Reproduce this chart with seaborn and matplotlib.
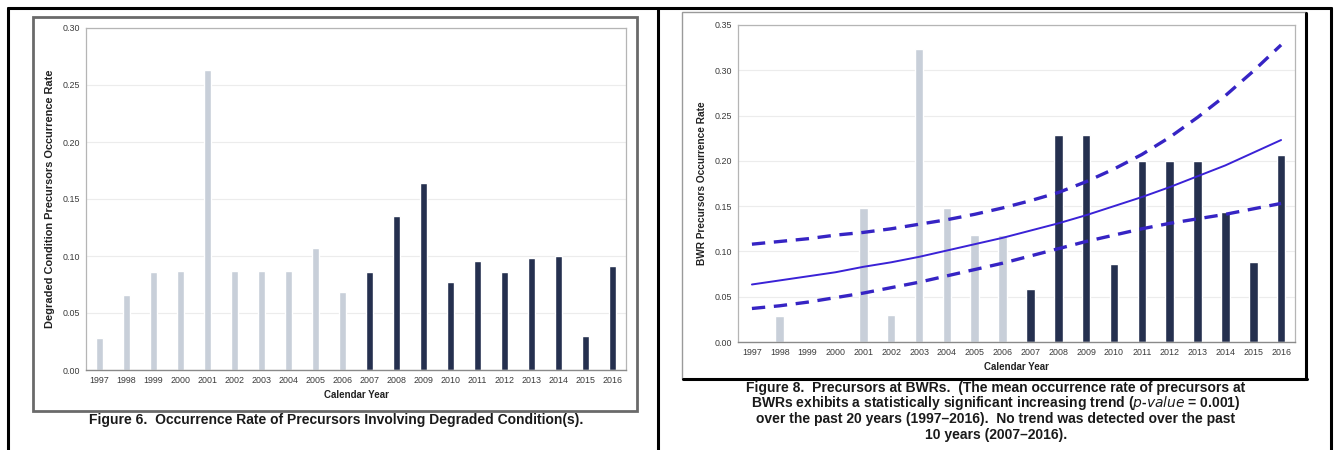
import numpy as np
import pandas as pd
import matplotlib
matplotlib.use("Agg")
import matplotlib.pyplot as plt
import seaborn as sns
from matplotlib.patches import Rectangle
from matplotlib.lines import Line2D

sns.set_theme(style="white")
plt.rcParams['font.family'] = ['Liberation Sans', 'DejaVu Sans']

years = [str(y) for y in range(1997, 2017)]
period = ["1997-2006"] * 10 + ["2007-2016"] * 10

degraded_rate = [0.028, 0.066, 0.086, 0.087, 0.263, 0.087, 0.087, 0.087, 0.107, 0.068,
                 0.086, 0.135, 0.164, 0.077, 0.096, 0.086, 0.098, 0.100, 0.030, 0.091]

bwr_rate = [0.0, 0.029, 0.0, 0.0, 0.148, 0.030, 0.324, 0.148, 0.118, 0.118,
            0.058, 0.229, 0.229, 0.086, 0.200, 0.200, 0.200, 0.144, 0.088, 0.206]

trend_mean = [0.0635, 0.068, 0.0725, 0.077, 0.083, 0.088, 0.094, 0.101, 0.108, 0.115,
              0.123, 0.131, 0.140, 0.150, 0.160, 0.171, 0.183, 0.195, 0.209, 0.223]
trend_upper = [0.108, 0.111, 0.114, 0.118, 0.121, 0.125, 0.130, 0.135, 0.141, 0.148,
               0.156, 0.165, 0.177, 0.191, 0.207, 0.226, 0.248, 0.272, 0.299, 0.328]
trend_lower = [0.037, 0.040, 0.044, 0.049, 0.054, 0.060, 0.066, 0.073, 0.080, 0.087,
               0.095, 0.103, 0.111, 0.118, 0.125, 0.131, 0.136, 0.141, 0.147, 0.153]

left_ylabel = "Degraded Condition Precursors Occurrence Rate"
right_ylabel = "BWR Precursors Occurrence Rate"
xlabel = "Calendar Year"
caption_left = "Figure 6.  Occurrence Rate of Precursors Involving Degraded Condition(s)."
caption_right = ["Figure 8.  Precursors at BWRs.  (The mean occurrence rate of precursors at",
                 "BWRs exhibits a statistically significant increasing trend ($\\it{p}$-$\\it{value}$ = 0.001)",
                 "over the past 20 years (1997\u20132016).  No trend was detected over the past",
                 "10 years (2007\u20132016)."]

palette = {"1997-2006": "#c8cfd9", "2007-2016": "#25304f"}

W, H = 1335, 450
fig = plt.figure(figsize=(W / 100, H / 100), dpi=100)
fig.patch.set_facecolor("white")


def fx(px):
    return px / W


def fy(py):
    return 1 - py / H


# table lines
for seg in [((8, 1331), (8, 8)), ((8, 8), (8, 450)), ((658, 658), (8, 450)), ((1331, 1331), (8, 450))]:
    fig.add_artist(Line2D([fx(seg[0][0]), fx(seg[0][1])], [fy(seg[1][0]), fy(seg[1][1])],
                          color="black", lw=2.2))

# chart frames
fig.add_artist(Rectangle((fx(33), fy(411)), fx(637) - fx(33), fy(17) - fy(411),
                         fill=False, edgecolor="#6a6a6a", lw=2.0))
fig.add_artist(Rectangle((fx(682), fy(379)), fx(1306) - fx(682), fy(12) - fy(379),
                         fill=False, edgecolor="#9a9a9a", lw=1.0))
fig.add_artist(Line2D([fx(1306), fx(1306)], [fy(13), fy(379)], color="black", lw=2.2))
fig.add_artist(Line2D([fx(683), fx(1307)], [fy(379), fy(379)], color="black", lw=2.2))


def style_axes(ax, ymax, ylabel, ylabel_size):
    ax.set_ylim(0, ymax)
    ticks = np.arange(0, ymax + 1e-9, 0.05)
    ax.set_yticks(ticks)
    ax.set_yticklabels([f"{v:.2f}" for v in ticks])
    ax.yaxis.grid(True, color="#ececec", lw=0.8)
    ax.set_axisbelow(True)
    for s in ["top", "right", "left"]:
        ax.spines[s].set_color("#b5b5b5")
        ax.spines[s].set_linewidth(0.9)
    ax.spines["bottom"].set_color("#8a8a8a")
    ax.spines["bottom"].set_linewidth(1.0)
    ax.tick_params(axis="both", length=0, labelsize=6.4, colors="#3a3a3a", pad=4)
    ax.set_xlabel(xlabel, fontsize=7, fontweight="bold", color="#222222", labelpad=4)
    ax.set_ylabel(ylabel, fontsize=ylabel_size, fontweight="bold", color="#222222", labelpad=6)


# left chart
axL = fig.add_axes([fx(86), fy(370), fx(626) - fx(86), fy(28) - fy(370)])
dfL = pd.DataFrame({"year": years, "rate": degraded_rate, "period": period})
sns.barplot(data=dfL, x="year", y="rate", hue="period", palette=palette, dodge=False,
            width=0.29, legend=False, ax=axL, saturation=1)
style_axes(axL, 0.30, left_ylabel, 7.9)

# right chart
axR = fig.add_axes([fx(738), fy(342), fx(1295) - fx(738), fy(25) - fy(342)])
dfR = pd.DataFrame({"year": years, "rate": bwr_rate, "period": period})
sns.barplot(data=dfR, x="year", y="rate", hue="period", palette=palette, dodge=False,
            width=0.31, legend=False, ax=axR, saturation=1)
pos = np.arange(len(years))
dfT = pd.DataFrame({"pos": pos, "mean": trend_mean, "upper": trend_upper, "lower": trend_lower})
sns.lineplot(data=dfT, x="pos", y="mean", color="#3a22d6", lw=1.4, ax=axR)
sns.lineplot(data=dfT, x="pos", y="upper", color="#3624c4", lw=2.4, ax=axR,
             linestyle=(0, (4.0, 2.6)))
sns.lineplot(data=dfT, x="pos", y="lower", color="#3624c4", lw=2.4, ax=axR,
             linestyle=(0, (4.0, 2.6)))
axR.set_xlim(-0.5, len(years) - 0.5)
style_axes(axR, 0.35, right_ylabel, 7.3)

# captions
fig.text(fx(336), fy(420), caption_left, ha="center", va="center", fontsize=10,
         color="#1a1a1a", fontweight="bold")
for i, line in enumerate(caption_right):
    fig.text(fx(996), fy(388 + 15.5 * i), line, ha="center", va="center", fontsize=10,
             color="#1a1a1a", fontweight="bold")

fig.savefig("out.png", dpi=100, facecolor="white")
